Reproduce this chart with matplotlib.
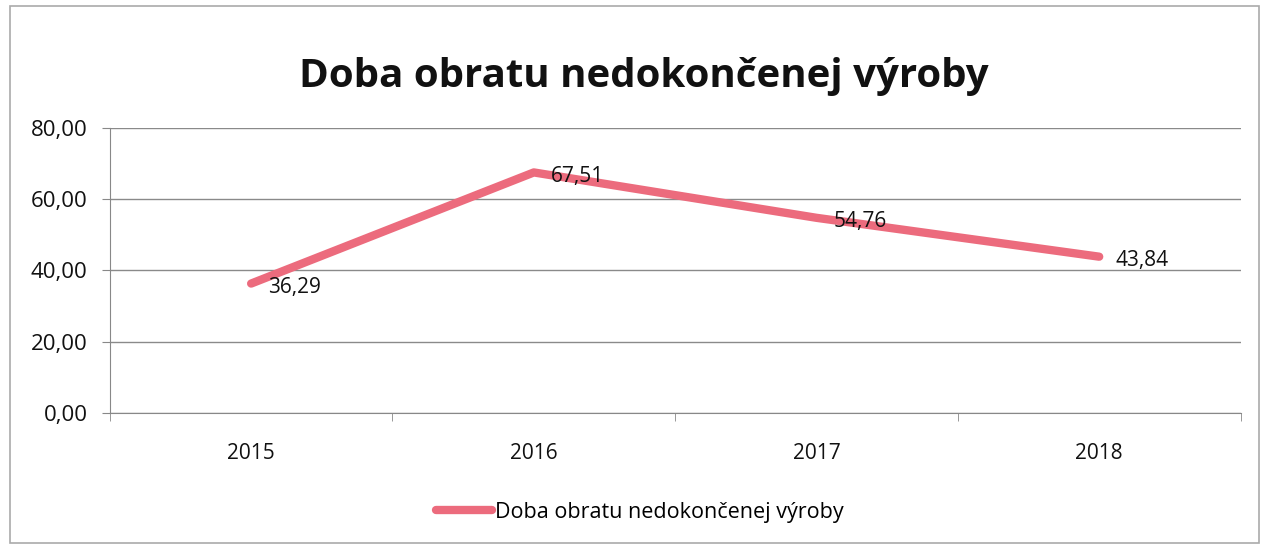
import matplotlib
matplotlib.use("Agg")
import matplotlib.pyplot as plt
from matplotlib.patches import Rectangle

years = ["2015", "2016", "2017", "2018"]
values = [36.29, 67.51, 54.76, 43.84]
labels = ["36,29", "67,51", "54,76", "43,84"]
yticks = [0, 20, 40, 60, 80]
ytick_labels = ["0,00", "20,00", "40,00", "60,00", "80,00"]
series_name = "Doba obratu nedokončenej výroby"
title = "Doba obratu nedokončenej výroby"

plt.rcParams['font.family'] = ['Open Sans', 'DejaVu Sans']

fig = plt.figure(figsize=(12.62, 5.54), dpi=100)
ax = fig.add_axes([0.087, 0.255, 0.896, 0.514])

line_color = "#EC6B7D"
x = list(range(len(years)))
ax.plot(x, values, color=line_color, lw=6, solid_capstyle="round",
        solid_joinstyle="round", label=series_name, zorder=3)

for xi, v, lab in zip(x, values, labels):
    ax.annotate(lab, (xi, v), xytext=(12, -3), textcoords="offset points",
                ha="left", va="center", fontsize=15, color="#111111", zorder=4)

ax.set_xlim(-0.5, 3.5)
ax.set_ylim(0, 80)
ax.set_yticks(yticks)
ax.set_yticklabels(ytick_labels, fontsize=16, color="#111111")
ax.set_xticks(x)
ax.set_xticklabels(years, fontsize=15, color="#111111")
ax.tick_params(axis="x", length=0, pad=22)
ax.set_xticks([-0.5, 0.5, 1.5, 2.5, 3.5], minor=True)
ax.tick_params(axis="x", which="minor", length=6, color="#888888", direction="out")
ax.tick_params(axis="y", length=6, color="#888888", pad=10)
ax.grid(axis="y", color="#8a8a8a", lw=1.0)
for s in ["top", "right"]:
    ax.spines[s].set_visible(False)
ax.spines["left"].set_color("#888888")
ax.spines["bottom"].set_color("#888888")
ax.set_axisbelow(True)

fig.text(0.51, 0.862, title, ha="center", va="center", fontsize=29,
         fontweight="bold", color="#111111")

leg = fig.legend(loc="center", bbox_to_anchor=(0.507, 0.075), frameon=False,
                 fontsize=15.5, handlelength=2.6, handletextpad=0.1)

fig.add_artist(Rectangle((0.008, 0.02), 0.99, 0.97, transform=fig.transFigure,
                         fill=False, edgecolor="#aaaaaa", lw=1.2))

fig.savefig("out.png", dpi=100, facecolor="white")
